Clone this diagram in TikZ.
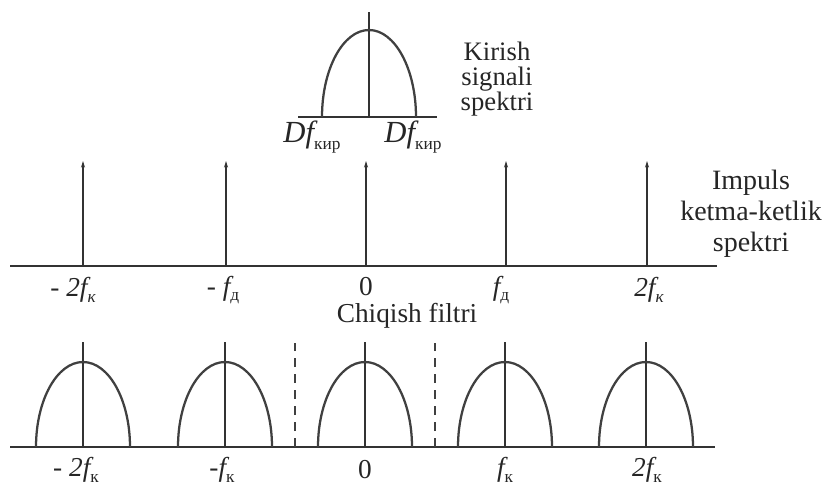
\documentclass[tikz,border=0pt]{standalone}
\usepackage{fontspec}
\setmainfont{Liberation Serif}
\usetikzlibrary{arrows.meta}
\newcommand{\sbs}[1]{\raisebox{-0.45ex}{\fontsize{13}{13}\selectfont #1}}
\begin{document}
\begin{tikzpicture}[x=0.75pt,y=-0.75pt,
  ln/.style={draw=black!80, line width=2pt},
  hump/.style={draw=black!75, line width=1.7pt},
  lbl/.style={font=\fontsize{20.5}{20.5}\selectfont, text=black!85, inner sep=0pt},
  imp/.style={ln, -{Stealth[length=5pt,width=3pt]}},
  dsh/.style={draw=black!75, line width=1.6pt, dash pattern=on 7pt off 5pt},
]
\useasboundingbox (0,0) rectangle (827,485);
\fill[white] (0,0) rectangle (827,485);

% ---- top: input signal spectrum
\coordinate (tL) at (298,117); \coordinate (tR) at (437,117);
\draw[ln] (tL) -- (tR);
\coordinate (tc0) at (369,117); \coordinate (tc1) at (369,12);
\draw[ln] (tc0) -- (tc1);
\draw[hump] (322,117) arc[start angle=180,end angle=360,x radius=47,y radius=87];
\node[lbl, font=\fontsize{23}{23}\selectfont] (dfl) at (312,137) {{\itshape Df}\sbs{кир}};
\node[lbl, font=\fontsize{23}{23}\selectfont] (dfr) at (413,137) {{\itshape Df}\sbs{кир}};
\node[lbl, align=center, font=\fontsize{20}{18.75}\selectfont] (kir) at (497,79) {Kirish\\signali\\spektri};

% ---- middle: impulse sequence spectrum
\coordinate (mL) at (10,266); \coordinate (mR) at (717,266);
\draw[ln] (mL) -- (mR);
\foreach \x/\n in {83/a,226/b,366/c,506/d,647/e}{
  \coordinate (m\n0) at (\x,266); \coordinate (m\n1) at (\x,161);
  \draw[imp] (m\n0) -- (m\n1);
}
\node[lbl] (ml1) at (73,290) {- {\itshape 2f}\sbs{\itshape к}};
\node[lbl] (ml2) at (223,290) {- {\itshape f}\sbs{д}};
\node[lbl, text depth=0pt] (ml3) at (366,286) {0};
\node[lbl] (ml4) at (501,290) {{\itshape f}\sbs{д}};
\node[lbl] (ml5) at (649,290) {{\itshape 2f}\sbs{\itshape к}};
\node[lbl, align=center, font=\fontsize{21}{23.25}\selectfont] (imps) at (751,214) {Impuls\\ketma-ketlik\\spektri};
\node[lbl] (chq) at (407,316) {Chiqish filtri};

% ---- bottom: output
\coordinate (bL) at (10,447); \coordinate (bR) at (715,447);
\draw[ln] (bL) -- (bR);
\foreach \x/\n in {83/a,225/b,365/c,505/d,646/e}{
  \coordinate (b\n0) at (\x,447); \coordinate (b\n1) at (\x,342);
  \draw[ln] (b\n0) -- (b\n1);
  \draw[hump] (\x-47,447) arc[start angle=180,end angle=360,x radius=47,y radius=85];
}
\foreach \x/\n in {295/l,435/r}{
  \coordinate (d\n0) at (\x,447); \coordinate (d\n1) at (\x,343);
  \draw[dsh] (d\n0) -- (d\n1);
}
\node[lbl] (bl1) at (76,470) {- {\itshape 2f}\sbs{к}};
\node[lbl] (bl2) at (222,470) {-{\itshape f}\sbs{к}};
\node[lbl] (bl3) at (365,470) {0};
\node[lbl] (bl4) at (505,470) {{\itshape f}\sbs{к}};
\node[lbl] (bl5) at (647,470) {{\itshape 2f}\sbs{к}};
\end{tikzpicture}
\end{document}
